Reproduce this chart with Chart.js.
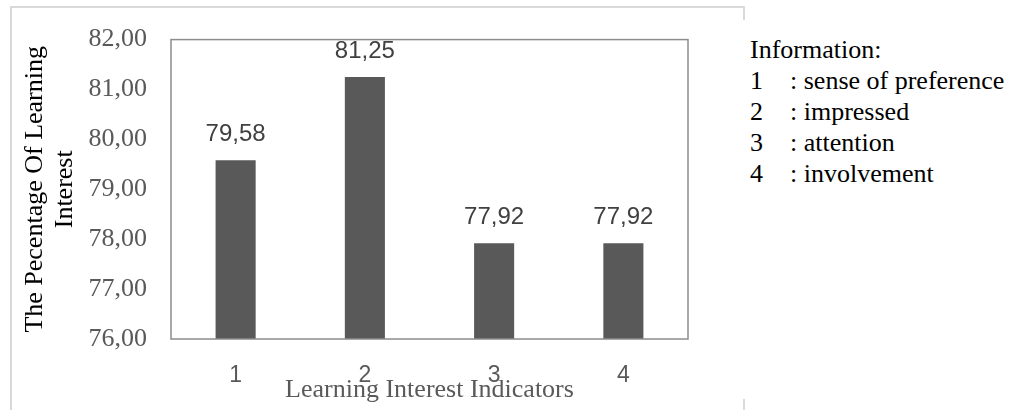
<!DOCTYPE html>
<html>
<head>
<meta charset="utf-8">
<script src="https://cdn.jsdelivr.net/npm/chart.js@4"></script>
<style>
  body { margin: 0; background: #fff; }
  #wrap { position: relative; width: 1017px; height: 410px; overflow: hidden; }
  #frame { position: absolute; left: 10px; top: 6px; width: 731px; height: 500px; border: 2px solid #d9d9d9; }
  #cover { position: absolute; left: 730px; top: 20px; width: 287px; height: 379px; background: #fff; }
  #cv { position: absolute; left: 0; top: 0; }
  #info { position: absolute; left: 750px; top: 34px; font-family: "Liberation Serif", serif; font-size: 26px; line-height: 31px; color: #000; white-space: nowrap; }
  #info span { display: inline-block; width: 40px; }
</style>
</head>
<body>
<div id="wrap">
  <div id="frame"></div>
  <div id="cover"></div>
  <canvas id="cv" width="745" height="410"></canvas>
  <div id="info">
    <div>Information:</div>
    <div><span>1</span>: sense of preference</div>
    <div><span>2</span>: impressed</div>
    <div><span>3</span>: attention</div>
    <div><span>4</span>: involvement</div>
  </div>
</div>
<script>
var categories = ["1", "2", "3", "4"];
var values = [79.58, 81.25, 77.92, 77.92];
var yTicks = [76, 77, 78, 79, 80, 81, 82];

function comma(v) { return v.toFixed(2).replace('.', ','); }

var boxAndLabels = {
  id: 'boxAndLabels',
  afterDatasetsDraw: function(chart) {
    var c = chart.ctx, a = chart.chartArea;
    c.save();
    c.strokeStyle = '#8c8c8c';
    c.lineWidth = 1.5;
    c.strokeRect(a.left, a.top, a.right - a.left, a.bottom - a.top);
    c.font = '24px "Liberation Sans", sans-serif';
    c.fillStyle = '#404040';
    c.textAlign = 'center';
    c.textBaseline = 'middle';
    chart.getDatasetMeta(0).data.forEach(function(bar, i) {
      c.fillText(comma(values[i]), bar.x, bar.y - 26);
    });
    c.restore();
  }
};

var ctx = document.getElementById('cv').getContext('2d');
var myChart = new Chart(ctx, {
  type: 'bar',
  data: {
    labels: categories,
    datasets: [{
      data: values,
      backgroundColor: '#595959',
      barPercentage: 0.31,
      categoryPercentage: 1
    }]
  },
  options: {
    responsive: false,
    animation: false,
    layout: { padding: { top: 27, right: 57, bottom: 0, left: 0 } },
    plugins: { legend: { display: false }, tooltip: { enabled: false } },
    scales: {
      x: {
        grid: { display: false, drawTicks: false },
        border: { display: false },
        ticks: { color: '#595959', padding: 23, font: { family: '"Liberation Sans", sans-serif', size: 23 } },
        title: {
          display: true,
          text: 'Learning Interest Indicators',
          color: '#595959',
          font: { family: '"Liberation Serif", serif', size: 26, lineHeight: 1.15 },
          padding: { top: 0, bottom: 5 }
        },
        afterFit: function(s) { s.height = 71; }
      },
      y: {
        min: 76,
        max: 82,
        grid: { display: false, drawTicks: false },
        border: { display: false },
        afterBuildTicks: function(s) { s.ticks = yTicks.map(function(v) { return { value: v }; }); },
        ticks: {
          color: '#595959',
          padding: 24,
          font: { family: '"Liberation Serif", serif', size: 26 },
          callback: function(v) { return comma(v); }
        },
        title: {
          display: true,
          text: ['The Pecentage Of Learning', 'Interest'],
          color: '#000',
          font: { family: '"Liberation Serif", serif', size: 26, lineHeight: 1.15 },
          padding: { top: 20, bottom: 0 }
        },
        afterFit: function(s) { s.width = 171; }
      }
    }
  },
  plugins: [boxAndLabels]
});
</script>
</body>
</html>
